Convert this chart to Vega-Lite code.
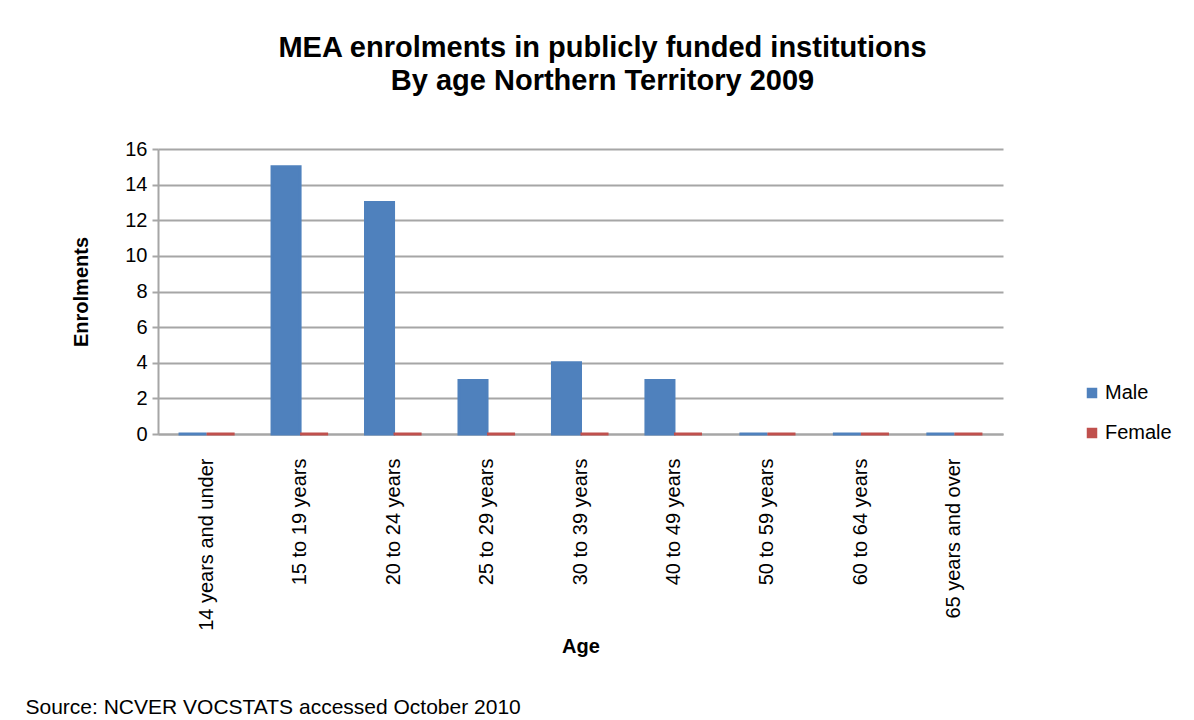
{
  "$schema": "https://vega.github.io/schema/vega-lite/v6.json",
  "background": "white",
  "padding": {"left": 25, "top": 34, "right": 5, "bottom": 5},
  "config": {
    "font": "Liberation Sans",
    "view": {"stroke": null},
    "concat": {"spacing": 39}
  },
  "vconcat": [
    {
      "width": 845,
      "height": 285,
      "title": {
        "text": ["MEA enrolments in publicly funded institutions", "By age Northern Territory 2009"],
        "fontSize": 29,
        "fontWeight": "bold",
        "color": "black",
        "lineHeight": 33,
        "offset": 43,
        "dx": 22,
        "anchor": "middle"
      },
      "data": {
        "values": [
          {"age": "14 years and under", "sex": "Male", "enrolments": 0},
          {"age": "14 years and under", "sex": "Female", "enrolments": 0},
          {"age": "15 to 19 years", "sex": "Male", "enrolments": 15},
          {"age": "15 to 19 years", "sex": "Female", "enrolments": 0},
          {"age": "20 to 24 years", "sex": "Male", "enrolments": 13},
          {"age": "20 to 24 years", "sex": "Female", "enrolments": 0},
          {"age": "25 to 29 years", "sex": "Male", "enrolments": 3},
          {"age": "25 to 29 years", "sex": "Female", "enrolments": 0},
          {"age": "30 to 39 years", "sex": "Male", "enrolments": 4},
          {"age": "30 to 39 years", "sex": "Female", "enrolments": 0},
          {"age": "40 to 49 years", "sex": "Male", "enrolments": 3},
          {"age": "40 to 49 years", "sex": "Female", "enrolments": 0},
          {"age": "50 to 59 years", "sex": "Male", "enrolments": 0},
          {"age": "50 to 59 years", "sex": "Female", "enrolments": 0},
          {"age": "60 to 64 years", "sex": "Male", "enrolments": 0},
          {"age": "60 to 64 years", "sex": "Female", "enrolments": 0},
          {"age": "65 years and over", "sex": "Male", "enrolments": 0},
          {"age": "65 years and over", "sex": "Female", "enrolments": 0}
        ]
      },
      "mark": {"type": "bar", "strokeWidth": 3},
      "encoding": {
        "x": {
          "field": "age",
          "type": "nominal",
          "sort": null,
          "scale": {"paddingInner": 0.4, "paddingOuter": 0.22},
          "axis": {
            "title": "Age",
            "titleFontSize": 20,
            "titleFontWeight": "bold",
            "titleColor": "black",
            "titlePadding": 6,
            "labelAngle": -90,
            "labelAlign": "right",
            "labelBaseline": "middle",
            "labelFontSize": 20,
            "labelColor": "black",
            "labelPadding": 24,
            "labelLimit": 300,
            "ticks": false,
            "domainColor": "#A6A6A6",
            "domainWidth": 2
          }
        },
        "xOffset": {"field": "sex", "type": "nominal", "sort": ["Male", "Female"]},
        "y": {
          "field": "enrolments",
          "type": "quantitative",
          "scale": {"domain": [0, 16], "nice": false},
          "axis": {
            "title": "Enrolments",
            "titleFontSize": 20,
            "titleFontWeight": "bold",
            "titleColor": "black",
            "titlePadding": 33,
            "values": [0, 2, 4, 6, 8, 10, 12, 14, 16],
            "labelFontSize": 20,
            "labelColor": "black",
            "labelPadding": 5,
            "gridColor": "#A6A6A6",
            "gridWidth": 2,
            "domainColor": "#A6A6A6",
            "domainWidth": 2,
            "tickColor": "#A6A6A6",
            "tickWidth": 2,
            "tickSize": 6
          }
        },
        "color": {
          "field": "sex",
          "type": "nominal",
          "sort": ["Male", "Female"],
          "scale": {"domain": ["Male", "Female"], "range": ["#4F81BD", "#C0504D"]},
          "legend": {
            "title": null,
            "orient": "none",
            "legendX": 924,
            "legendY": 234,
            "symbolType": "square",
            "symbolSize": 110,
            "symbolStrokeWidth": 0,
            "labelFontSize": 20,
            "labelColor": "black",
            "labelOffset": 3,
            "rowPadding": 20
          }
        },
        "stroke": {
          "field": "sex",
          "type": "nominal",
          "scale": {"domain": ["Male", "Female"], "range": ["#4F81BD", "#C0504D"]},
          "legend": null
        }
      }
    },
    {
      "width": 845,
      "height": 1,
      "data": {"values": [{}]},
      "mark": {"type": "rule", "opacity": 0},
      "encoding": {},
      "title": {
        "text": "Source: NCVER  VOCSTATS accessed October 2010",
        "anchor": "start",
        "fontSize": 21,
        "fontWeight": "normal",
        "color": "black",
        "dx": -132,
        "offset": 0
      }
    }
  ]
}
